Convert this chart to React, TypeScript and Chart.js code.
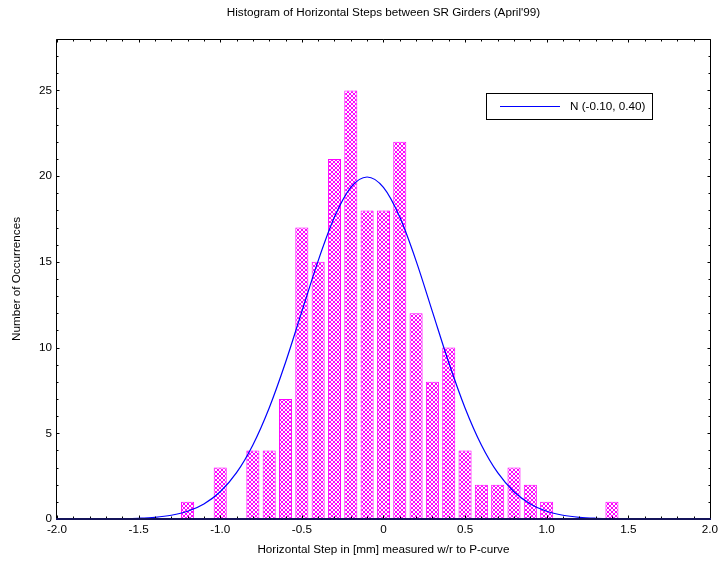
import React, { useEffect, useRef } from 'react';
import { Chart, registerables } from 'chart.js';

Chart.register(...registerables);

// ---- data ----
const binCenters = [-1.2, -1.1, -1.0, -0.9, -0.8, -0.7, -0.6, -0.5, -0.4, -0.3, -0.2, -0.1, 0.0, 0.1, 0.2, 0.3, 0.4, 0.5, 0.6, 0.7, 0.8, 0.9, 1.0, 1.1, 1.2, 1.3, 1.4];
const counts = [1, 0, 3, 0, 4, 4, 7, 17, 15, 21, 25, 18, 18, 22, 12, 8, 10, 4, 2, 2, 3, 2, 1, 0, 0, 0, 1];

const curveX = [-2.0, -1.9, -1.8, -1.7, -1.6, -1.5, -1.4, -1.3, -1.2, -1.1, -1.0, -0.9, -0.8, -0.7, -0.6, -0.5, -0.4, -0.3, -0.2, -0.1, 0.0, 0.1, 0.2, 0.3, 0.4, 0.5, 0.6, 0.7, 0.8, 0.9, 1.0, 1.1, 1.2, 1.3, 1.4, 1.5, 1.6, 1.7, 1.8, 1.9, 2.0];
const curveY = [0.0, 0.001, 0.002, 0.007, 0.018, 0.044, 0.10, 0.22, 0.45, 0.88, 1.59, 2.70, 4.32, 6.48, 9.13, 12.10, 15.06, 17.61, 19.34, 19.95, 19.34, 17.61, 15.06, 12.10, 9.13, 6.48, 4.32, 2.70, 1.59, 0.88, 0.45, 0.22, 0.10, 0.044, 0.018, 0.007, 0.002, 0.001, 0.0, 0.0, 0.0];

const curveLabel = 'N (-0.10, 0.40)';
const titleText = "Histogram of Horizontal Steps between SR Girders (April'99)";
const xTitle = 'Horizontal Step in [mm] measured w/r to P-curve';
const yTitle = 'Number of Occurrences';

const xTicks = [-2.0, -1.5, -1.0, -0.5, 0, 0.5, 1.0, 1.5, 2.0];
const xTickLabels = ['-2.0', '-1.5', '-1.0', '-0.5', '0', '0.5', '1.0', '1.5', '2.0'];
const yTicks = [0, 5, 10, 15, 20, 25];
const yTickLabels = ['0', '5', '10', '15', '20', '25'];

const FONT = "'Liberation Sans', Arial, Helvetica, sans-serif";
const FS = 11.7;

function makePattern(): CanvasPattern | string {
  const c = document.createElement('canvas');
  c.width = 4;
  c.height = 4;
  const g = c.getContext('2d');
  if (!g) return '#ff00ff';
  g.fillStyle = '#ffffff';
  g.fillRect(0, 0, 4, 4);
  g.fillStyle = '#ff00ff';
  for (let a = 0; a < 4; a++) {
    for (let b = 0; b < 4; b++) {
      if (a === b || a + b === 3) g.fillRect(a, b, 1, 1);
    }
  }
  const p = g.createPattern(c, 'repeat');
  return p || '#ff00ff';
}

const framePlugin = {
  id: 'frameTicks',
  afterDraw(chart: any) {
    const { ctx, chartArea } = chart;
    const { left, right, top, bottom } = chartArea;
    const xs = chart.scales.x;
    const ys = chart.scales.y;
    ctx.save();
    // title centred over the plot area
    ctx.fillStyle = '#000000';
    ctx.font = `${FS}px ${FONT}`;
    ctx.textAlign = 'center';
    ctx.textBaseline = 'middle';
    ctx.fillText(titleText, (left + right) / 2, 13);

    // frame
    ctx.strokeStyle = '#000000';
    ctx.lineWidth = 1;
    const L = Math.round(left) - 0.5;
    const R = Math.round(right) + 0.5;
    const T = Math.round(top) + 0.5;
    const B = Math.round(bottom) + 0.5;
    ctx.beginPath();
    ctx.moveTo(L, B);
    ctx.lineTo(L, T);
    ctx.lineTo(R, T);
    ctx.lineTo(R, B);
    ctx.stroke();
    // inward ticks
    ctx.beginPath();
    for (let i = 0; i <= 40; i++) {
      const v = -2 + i / 10;
      const px = Math.round(xs.getPixelForValue(v)) + 0.5;
      const len = i % 5 === 0 ? 3 : 2;
      ctx.moveTo(px, T);
      ctx.lineTo(px, T + len);
      ctx.moveTo(px, B - 1);
      ctx.lineTo(px, B - 1 - len);
    }
    for (let j = 0; j <= 28; j++) {
      const py = Math.round(ys.getPixelForValue(j)) + 0.5;
      const len = j % 5 === 0 ? 3 : 2;
      ctx.moveTo(L, py);
      ctx.lineTo(L + len, py);
      ctx.moveTo(R, py);
      ctx.lineTo(R - len, py);
    }
    ctx.stroke();
    // bottom axis line
    ctx.strokeStyle = '#14145a';
    ctx.lineWidth = 2;
    ctx.beginPath();
    ctx.moveTo(L - 0.5, Math.round(bottom));
    ctx.lineTo(R + 0.5, Math.round(bottom));
    ctx.stroke();

    // legend
    const ds = chart.data.datasets.find((d: any) => d.type === 'line');
    const bx = 486.5, by = 93.5, bw = 166, bh = 26;
    ctx.fillStyle = '#ffffff';
    ctx.fillRect(bx, by, bw, bh);
    ctx.strokeStyle = '#000000';
    ctx.lineWidth = 1;
    ctx.strokeRect(bx, by, bw, bh);
    ctx.strokeStyle = ds.borderColor;
    ctx.beginPath();
    ctx.moveTo(500, 106.5);
    ctx.lineTo(560, 106.5);
    ctx.stroke();
    ctx.fillStyle = '#000000';
    ctx.font = `${FS}px ${FONT}`;
    ctx.textBaseline = 'middle';
    ctx.textAlign = 'left';
    ctx.fillText(ds.label, 570, 107);
    ctx.restore();
  },
};

export default function App() {
  const ref = useRef<HTMLCanvasElement | null>(null);

  useEffect(() => {
    if (!ref.current) return;
    const pattern = makePattern();
    const chart = new Chart(ref.current, {
      type: 'bar',
      data: {
        datasets: [
          {
            type: 'line',
            label: curveLabel,
            data: curveX.map((x, i) => ({ x, y: curveY[i] })),
            borderColor: '#0000ff',
            borderWidth: 1.2,
            pointRadius: 0,
            fill: false,
            cubicInterpolationMode: 'monotone',
            order: 1,
          } as any,
          {
            type: 'bar',
            label: 'Occurrences',
            data: binCenters.map((x, i) => ({ x, y: counts[i] === 0 ? null : counts[i] })),
            backgroundColor: pattern as any,
            borderColor: '#ff00ff',
            borderWidth: 1,
            borderSkipped: false,
            barPercentage: 0.8,
            categoryPercentage: 1.0,
            order: 2,
          } as any,
        ],
      },
      options: {
        responsive: false,
        animation: false,
        events: [],
        layout: { padding: { left: 0, right: 9, top: 39, bottom: 0 } },
        plugins: {
          legend: { display: false },
          tooltip: { enabled: false },
          title: { display: false },
        },
        scales: {
          x: {
            type: 'linear',
            min: -2,
            max: 2,
            offset: false,
            grid: { display: false, drawTicks: false },
            border: { display: false },
            afterBuildTicks: (s: any) => {
              s.ticks = xTicks.map((v) => ({ value: v }));
            },
            afterFit: (s: any) => {
              s.height = 43;
            },
            ticks: {
              autoSkip: false,
              maxRotation: 0,
              padding: 4,
              color: '#000000',
              font: { family: FONT, size: FS },
              callback: (_v: any, i: number) => xTickLabels[i],
            },
            title: {
              display: true,
              text: xTitle,
              color: '#000000',
              font: { family: FONT, size: FS },
              padding: { top: 0, bottom: 5 },
            },
          },
          y: {
            type: 'linear',
            min: 0,
            max: 28,
            grid: { display: false, drawTicks: false },
            border: { display: false },
            afterBuildTicks: (s: any) => {
              s.ticks = yTicks.map((v) => ({ value: v }));
            },
            afterFit: (s: any) => {
              s.width = 57;
            },
            ticks: {
              padding: 5,
              color: '#000000',
              font: { family: FONT, size: FS },
              callback: (_v: any, i: number) => yTickLabels[i],
            },
            title: {
              display: true,
              text: yTitle,
              color: '#000000',
              font: { family: FONT, size: FS },
              padding: { top: 10, bottom: 0 },
            },
          },
        },
      } as any,
      plugins: [framePlugin],
    });
    return () => chart.destroy();
  }, []);

  return (
    <div style={{ position: 'absolute', left: 0, top: 0, width: 722, height: 562, background: '#ffffff' }}>
      <canvas ref={ref} width={722} height={562} style={{ display: 'block' }} />
    </div>
  );
}
